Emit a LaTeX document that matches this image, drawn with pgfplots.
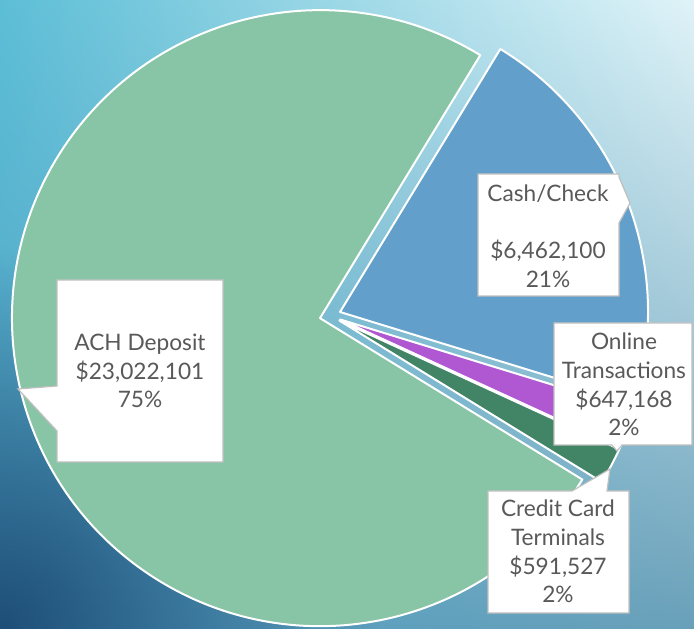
\documentclass[border=0pt]{standalone}
\usepackage{pgfplots}
\usepackage{pgfplotstable}
\pgfplotsset{compat=1.18}
\usetikzlibrary{shadings,fadings}
\usepackage{fontspec}
\setmainfont{Lato}
\definecolor{achc}{HTML}{88C4A6}
\definecolor{cashc}{HTML}{629FCA}
\definecolor{onlc}{HTML}{B058D2}
\definecolor{crc}{HTML}{428466}
\definecolor{txt}{HTML}{595959}
\definecolor{bord}{HTML}{BFBFBF}
\definecolor{bgul}{RGB}{92,190,214}
\definecolor{bgur}{RGB}{224,243,248}
\definecolor{bgll}{RGB}{80,160,195}
\definecolor{bglr}{RGB}{105,160,185}
\definecolor{bgdark}{RGB}{30,78,120}
\tikzfading[name=cornerfade, inner color=transparent!0, outer color=transparent!100]
\pgfplotstableread{
label value color
ACH 23022101 achc
Cash 6462100 cashc
Online 647168 onlc
Credit 591527 crc
}\piedata
\begin{document}
\begin{tikzpicture}
\begin{axis}[x=0.75pt,y=0.75pt,xmin=0,xmax=694,ymin=0,ymax=629,hide axis,scale only axis,clip=false]
\begin{scope}
\clip (axis cs:0,0) rectangle (axis cs:694,629);
\shade[upper left=bgul,upper right=bgur,lower left=bgll,lower right=bglr] (axis cs:0,0) rectangle (axis cs:694,629);
\fill[bgdark,path fading=cornerfade] (axis cs:-380,-380) rectangle (axis cs:380,380);
\end{scope}
\def\total{0}
\pgfplotsforeachungrouped \i in {0,...,3}{%
  \pgfplotstablegetelem{\i}{value}\of\piedata
  \xdef\total{\fpeval{\total+\pgfplotsretval}}}
\def\cur{-31.6}
\pgfplotsforeachungrouped \i in {0,...,3}{%
  \pgfplotstablegetelem{\i}{value}\of\piedata \let\val\pgfplotsretval
  \pgfplotstablegetelem{\i}{color}\of\piedata \let\col\pgfplotsretval
  \edef\sweep{\fpeval{360*\val/\total}}%
  \edef\mid{\fpeval{\cur-\sweep/2}}%
  \edef\endang{\fpeval{\cur-\sweep}}%
  \edef\temp{\noexpand\filldraw[fill=\col,draw=white,line width=1.5pt,line join=round]
     ([shift={(\mid:7.875pt)}]axis cs:330.2,313.3) -- ++(\cur:231pt) arc[start angle=\cur,end angle=\endang,radius=231pt] -- cycle;}%
  \temp
  \xdef\cur{\endang}%
}
% callouts
\filldraw[fill=white,draw=bord,line width=0.9pt] (axis cs:57,349) -- (axis cs:223,349) -- (axis cs:223,167) -- (axis cs:57,167) -- (axis cs:57,198) -- (axis cs:18,240) -- (axis cs:57,243) -- cycle;
\node[text=txt,align=center,font=\fontsize{17}{21.4}\selectfont] at (axis cs:140,258) {ACH Deposit\\\$23,022,101\\75\%};
\filldraw[fill=white,draw=bord,line width=0.9pt] (axis cs:478,455) -- (axis cs:619,455) -- (axis cs:619,452) -- (axis cs:630,426) -- (axis cs:619,406) -- (axis cs:619,333) -- (axis cs:478,333) -- cycle;
\node[text=txt,align=center,font=\fontsize{17}{21.4}\selectfont] at (axis cs:548,393) {Cash/Check\\\mbox{}\\\$6,462,100\\21\%};
\filldraw[fill=white,draw=bord,line width=0.9pt] (axis cs:554,306) -- (axis cs:692,306) -- (axis cs:692,184) -- (axis cs:622,184) -- (axis cs:617,178) -- (axis cs:612,184) -- (axis cs:554,184) -- cycle;
\node[text=txt,align=center,font=\fontsize{17}{21.4}\selectfont] at (axis cs:624,244.5) {Online\\Transactions\\\$647,168\\2\%};
\filldraw[fill=white,draw=bord,line width=0.9pt] (axis cs:488,138) -- (axis cs:572,138) -- (axis cs:610,160) -- (axis cs:607,138) -- (axis cs:629,138) -- (axis cs:629,16) -- (axis cs:488,16) -- cycle;
\node[text=txt,align=center,font=\fontsize{17}{21.4}\selectfont] at (axis cs:558,77.5) {Credit Card\\Terminals\\\$591,527\\2\%};
\end{axis}
\pgfresetboundingbox
\path[use as bounding box] (current axis.south west) rectangle (current axis.north east);
\end{tikzpicture}
\end{document}
